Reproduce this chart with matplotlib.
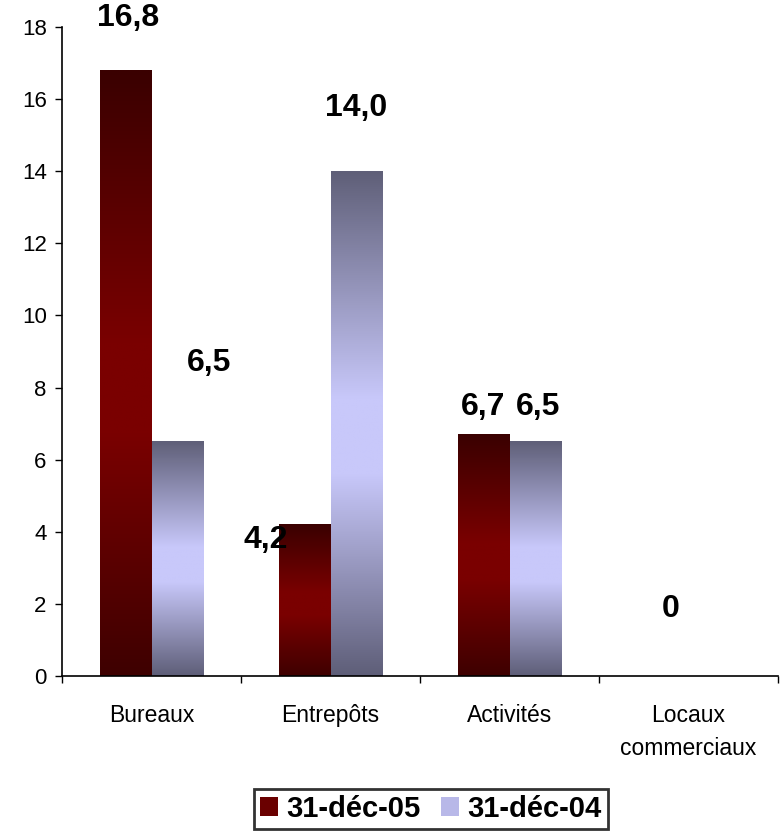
import numpy as np
import matplotlib.pyplot as plt
from matplotlib.colors import LinearSegmentedColormap
from matplotlib.patches import Patch

plt.rcParams['font.family'] = ['Liberation Sans', 'DejaVu Sans']

categories = ['Bureaux', 'Entrepôts', 'Activités', 'Locaux\ncommerciaux']
serie_05 = [16.8, 4.2, 6.7, 0.0]
serie_04 = [6.5, 14.0, 6.5, 0.0]
labels_05 = ['16,8', '4,2', '6,7', '0']
labels_04 = ['6,5', '14,0', '6,5', None]
legend_names = ['31-déc-05', '31-déc-04']

# decalages des etiquettes (pixels), places a la main
offs_05 = [(3, 52), (-39, -15), (0, 27), (8, 67)]
offs_04 = [(32, 79), (0, 63), (3, 35), (0, 0)]

# degrades verticaux: sombre en haut et en bas, clair au milieu
cmap_05 = LinearSegmentedColormap.from_list(
    'rouge', [(0, '#3a0000'), (0.45, '#7a0000'), (0.6, '#7a0000'), (1, '#3e0000')])
cmap_04 = LinearSegmentedColormap.from_list(
    'bleu', [(0, '#5f5f78'), (0.45, '#c8c8fa'), (0.6, '#c8c8fa'), (1, '#5e5e78')])

fig = plt.figure(figsize=(7.84, 8.31), dpi=100)
ax = fig.add_axes([62 / 784, 1 - 676 / 831, 716 / 784, 649 / 831])

x = np.arange(len(categories))
w = 0.29
b05 = ax.bar(x - w / 2, serie_05, w, color='none', linewidth=0)
b04 = ax.bar(x + w / 2, serie_04, w, color='none', linewidth=0)

grad = np.linspace(0, 1, 256).reshape(-1, 1)
for bars, cm in ((b05, cmap_05), (b04, cmap_04)):
    for p in bars:
        x0, y0 = p.get_x(), p.get_y()
        h = p.get_height()
        if h <= 0:
            continue
        ax.imshow(grad, cmap=cm, aspect='auto', origin='upper',
                  extent=(x0, x0 + p.get_width(), y0, y0 + h), zorder=2)

ax.set_xlim(-0.5, len(categories) - 0.5)
ax.set_ylim(0, 18)
ax.set_yticks(np.arange(0, 19, 2))

for bars, labs, offs in ((b05, labels_05, offs_05), (b04, labels_04, offs_04)):
    for p, lab, (dx, dy) in zip(bars, labs, offs):
        if lab is None:
            continue
        ax.annotate(lab, (p.get_x() + p.get_width() / 2, p.get_height()),
                    xytext=(dx, dy), textcoords='offset pixels',
                    ha='center', va='center', fontsize=23, fontweight='bold',
                    annotation_clip=False)

# graduations aux limites des categories, libelles au centre
ax.set_xticks(np.arange(len(categories) + 1) - 0.5)
ax.set_xticklabels([])
ax.set_xticks(x, minor=True)
ax.set_xticklabels(categories, minor=True, fontsize=16.5, linespacing=1.55)
ax.tick_params(axis='x', which='major', direction='out', length=5, width=1)
ax.tick_params(axis='x', which='minor', length=0, pad=20)
ax.tick_params(axis='y', direction='out', length=5, width=1, labelsize=16, pad=6)

for s in ('top', 'right'):
    ax.spines[s].set_visible(False)
for s in ('left', 'bottom'):
    ax.spines[s].set_linewidth(1.2)

handles = [Patch(facecolor='#6a0000', edgecolor='none'),
           Patch(facecolor='#b8b8e8', edgecolor='none')]
leg = fig.legend(handles, legend_names, loc='center', bbox_to_anchor=(431 / 784, 1 - 809 / 831),
                 ncol=2, frameon=True, fancybox=False,
                 prop={'weight': 'bold', 'size': 21},
                 handlelength=0.6, handleheight=0.6, handletextpad=0.3,
                 columnspacing=0.7, borderpad=0.2, borderaxespad=0)
leg.get_frame().set_edgecolor('black')
leg.get_frame().set_linewidth(2)

fig.savefig('out.png', dpi=100)
